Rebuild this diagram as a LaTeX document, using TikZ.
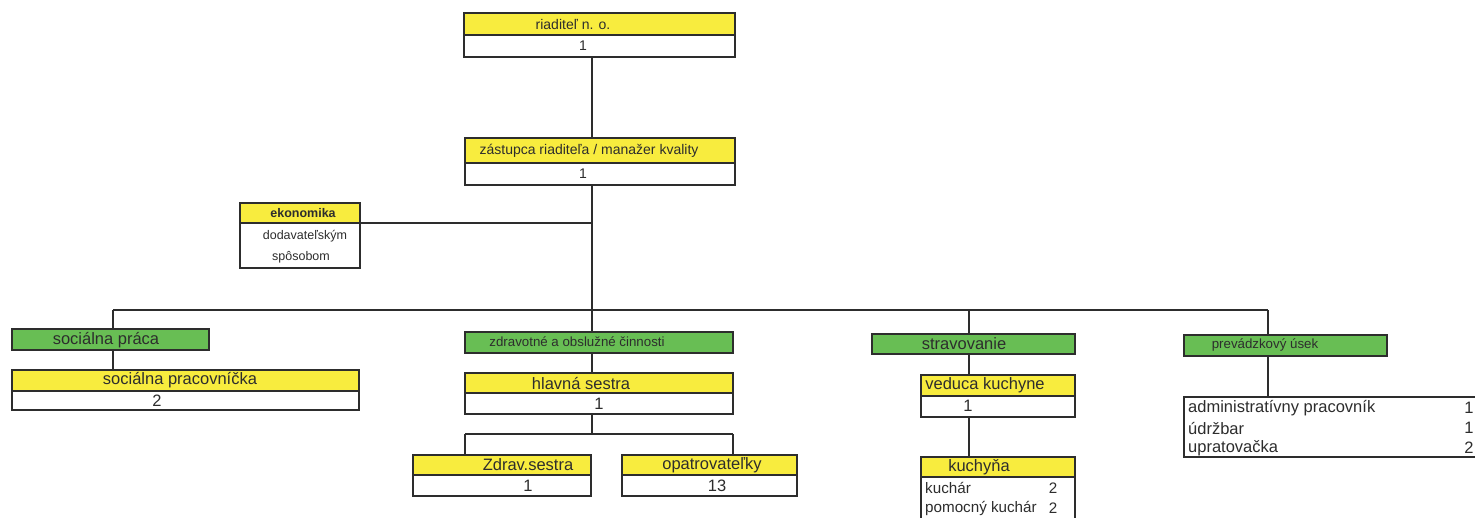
\documentclass[tikz,border=0pt]{standalone}
\usepackage{fontspec}
\setmainfont{Liberation Sans}
\definecolor{ylw}{RGB}{248,236,62}
\definecolor{grn}{RGB}{104,190,84}
\definecolor{ink}{RGB}{45,45,45}
\tikzset{
  box/.style={draw=ink, line width=1.1pt, inner sep=0pt, outer sep=0pt, anchor=north west},
  wh/.style 2 args={minimum width=#1, minimum height=#2},
  ybox/.style={box, fill=ylw},
  wbox/.style={box, fill=white},
  gbox/.style={box, fill=grn},
  frame/.style={draw=ink, line width=2.4pt},
  conn/.style={draw=ink, line width=1.1pt},
  txt/.style={inner sep=0pt, text=ink},
  fA/.style={font=\fontsize{14}{14}\selectfont},
  fB/.style={font=\fontsize{16.5}{16.5}\selectfont},
  fC/.style={font=\fontsize{13.3}{13.3}\selectfont},
  fD/.style={font=\fontsize{12.5}{12.5}\selectfont},
  fDb/.style={font=\fontsize{12.5}{12.5}\selectfont\bfseries},
  fE/.style={font=\fontsize{15.2}{15.2}\selectfont},
}
\begin{document}
\begin{tikzpicture}[x=1pt,y=-1pt]
\useasboundingbox (0,0) rectangle (1475,517);
\clip (0,0) rectangle (1475,517);
\fill[white] (0,0) rectangle (1475,517);

% coordinates for connectors
\coordinate (trunk) at (592,0);
\coordinate (busL) at (113,310);
\coordinate (busZ) at (592,310);
\coordinate (busS) at (969,310);
\coordinate (busR) at (1268,310);
\coordinate (sub) at (592,434);
\coordinate (subL) at (465,434);
\coordinate (subR) at (733,434);

% ---- boxes (headers and bodies) ----
\node[ybox, wh={271}{22}] (dirH) at (464,13) {};
\node[wbox, wh={271}{22}] (dirB) at (464,35) {};
\node[ybox, wh={270}{25}] (zasH) at (465,138) {};
\node[wbox, wh={270}{22}] (zasB) at (465,163) {};

\node[ybox, wh={120}{20}] (ekoH) at (240,203) {};
\node[wbox, wh={120}{45}] (ekoB) at (240,223) {};

% connectors (drawn before lower boxes so boxes cover them)
\draw[conn] (dirB.south -| trunk) -- (zasH.north -| trunk);
\draw[conn] (zasB.south -| trunk) -- (busZ);
\draw[conn] (ekoH.south east) -- (ekoH.south east -| trunk);
\draw[conn] (busL) -- (busR);

\node[gbox, wh={197}{21}] (spG) at (12,329) {};
\node[ybox, wh={347}{21}] (spH) at (12,370) {};
\node[wbox, wh={347}{19}] (spB) at (12,391) {};

\node[gbox, wh={268}{21}] (zdG) at (465,332) {};
\node[ybox, wh={268}{20}] (hsH) at (465,373) {};
\node[wbox, wh={268}{21}] (hsB) at (465,393) {};

\node[ybox, wh={178}{20}] (zsH) at (413,455) {};
\node[wbox, wh={178}{21}] (zsB) at (413,475) {};
\node[ybox, wh={175}{20}] (opH) at (622,455) {};
\node[wbox, wh={175}{21}] (opB) at (622,475) {};

\node[gbox, wh={203}{20}] (stG) at (872,334) {};
\node[ybox, wh={154}{21}] (vkH) at (921,375) {};
\node[wbox, wh={154}{21}] (vkB) at (921,396) {};
\node[ybox, wh={154}{20}] (kuH) at (921,457) {};
\node[wbox, wh={154}{60}] (kuB) at (921,477) {};

\node[gbox, wh={203}{21}] (prG) at (1184,335) {};
\node[wbox, wh={306}{60}] (prB) at (1184,397) {};

% vertical drops
\draw[conn] (busL) -- (spG.north -| busL);
\draw[conn] (spG.south -| busL) -- (spH.north -| busL);
\draw[conn] (busZ) -- (zdG.north -| busZ);
\draw[conn] (zdG.south -| busZ) -- (hsH.north -| busZ);
\draw[conn] (hsB.south -| sub) -- (sub);
\draw[conn] (subL) -- (subR);
\draw[conn] (subL) -- (zsH.north -| subL);
\draw[conn] (subR) -- (opH.north -| subR);
\draw[conn] (busS) -- (stG.north -| busS);
\draw[conn] (stG.south -| busS) -- (vkH.north -| busS);
\draw[conn] (vkB.south -| busS) -- (kuH.north -| busS);
\draw[conn] (busR) -- (prG.north -| busR);
\draw[conn] (prG.south -| busR) -- (prB.north -| busR);

% thick outer frames for top boxes
\draw[frame] (dirH.north west) rectangle (dirB.south east);
\draw[frame] (zasH.north west) rectangle (zasB.south east);

% ---- texts ----
\node[txt, fA] (t1) at (573,24) {riaditeľ n. o.};
\node[txt, fA] (t2) at (583,46) {1};
\node[txt, fA] (t3) at (589,151) {zástupca riaditeľa / manažer kvality};
\node[txt, fA] (t4) at (583,174) {1};

\node[txt, fDb] (t5) at (303,213) {ekonomika};
\node[txt, fD] (t6) at (305,236) {dodavateľským};
\node[txt, fD] (t7) at (301,257) {spôsobom};

\node[txt, fB] (t8) at (106,340) {sociálna práca};
\node[txt, fB] (t9) at (180,380) {sociálna pracovníčka};
\node[txt, fB] (t10) at (157,401) {2};

\node[txt, fC] (t11) at (577,342) {zdravotné a obslužné činnosti};
\node[txt, fB] (t12) at (581,383) {hlavná sestra};
\node[txt, fB] (t13) at (599,404) {1};
\node[txt, fB] (t14) at (528,465) {Zdrav.sestra};
\node[txt, fB] (t15) at (528,486) {1};
\node[txt, fB] (t16) at (712,465) {opatrovateľky};
\node[txt, fB] (t17) at (717,486) {13};

\node[txt, fB] (t18) at (964,344) {stravovanie};
\node[txt, fB] (t19) at (985,385) {veduca kuchyne};
\node[txt, fB] (t20) at (968,406) {1};
\node[txt, fB] (t21) at (979,467) {kuchyňa};
\node[txt, fE, anchor=west] (t22) at (925,488) {kuchár};
\node[txt, fE] (t23) at (1053,488) {2};
\node[txt, fE, anchor=west] (t24) at (925,508) {pomocný kuchár};
\node[txt, fE] (t25) at (1053,508) {2};

\node[txt, fC] (t26) at (1265,345) {prevádzkový úsek};
\node[txt, fB, anchor=west] (t27) at (1188,408) {administratívny pracovník};
\node[txt, fB, anchor=west] (t28) at (1188,428) {údržbar};
\node[txt, fB, anchor=west] (t29) at (1188,448) {upratovačka};
\node[txt, fB] (t30) at (1469,408) {1};
\node[txt, fB] (t31) at (1469,428) {1};
\node[txt, fB] (t32) at (1469,448) {2};
\end{tikzpicture}
\end{document}
